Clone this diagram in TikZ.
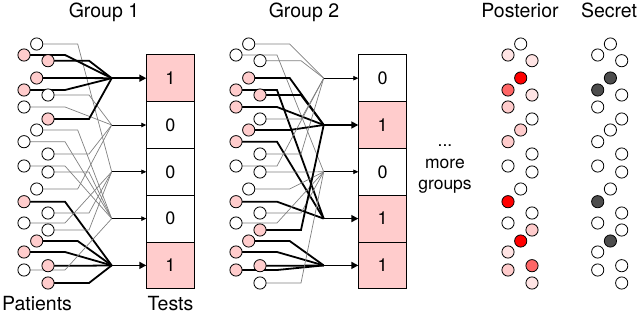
\documentclass[tikz,border=0pt]{standalone}
\usepackage{fontspec}
\setmainfont{TeX Gyre Heros}
\usetikzlibrary{arrows.meta,backgrounds}
\definecolor{pk}{RGB}{255,204,204}
\definecolor{vlp}{RGB}{255,228,228}
\definecolor{mr}{RGB}{255,102,102}
\definecolor{rd}{RGB}{255,0,0}
\definecolor{dk}{RGB}{77,77,77}
\definecolor{ln}{RGB}{128,128,128}
\tikzset{
  np/.style={circle,draw=black,line width=0.8pt,fill=white,minimum size=12.2pt,inner sep=0pt},
  ip/.style={np,fill=pk},
  l0/.style={draw=ln,line width=0.7pt},
  l1/.style={draw=black,line width=1.8pt},
  a0/.style={draw=black,line width=0.8pt,-{Triangle[length=5pt,width=4.5pt]}},
  a1/.style={draw=black,line width=1.6pt,-{Triangle[length=7pt,width=7pt]}},
  tbox/.style={rectangle,draw=black,line width=0.8pt,minimum width=47.6pt,minimum height=46.8pt,inner sep=0pt,font=\fontsize{18}{20}\selectfont},
  lbl/.style={font=\fontsize{19.5}{22}\selectfont,anchor=base},
}
\begin{document}
\begin{tikzpicture}[x=1pt,y=-1pt]
\useasboundingbox (0,0) rectangle (640,321);
% base patient positions
\foreach \i/\x/\y in {1/36.7/44,2/24/55,3/48/60.7,4/36.7/78,5/24/90,6/48/95,7/24/107,8/48/119,9/36.7/130,10/24/141.7,11/48/154,12/24/166,13/48/172,14/36.7/189,15/24/201.7,16/48/213,17/24/223,18/48/230,19/36.7/241,20/24/252,21/48/265.7,22/24/270,23/48/283}
  {\coordinate (b\i) at (\x,\y);}
% test rows
\foreach \t/\y in {1/78.2,2/125,3/171.8,4/218.6,5/265.4}{
  \coordinate (g1j\t) at (111.7,\y);
  \coordinate (g2j\t) at (323.7,\y);
}
% ---------- Group 1 ----------
\foreach \t/\v/\f in {1/1/pk,2/0/white,3/0/white,4/0/white,5/1/pk}{
  \node[tbox,fill=\f] (g1t\t) at ([xshift=58.8pt]g1j\t) {\v};
}
\foreach \t/\s in {1/1,2/0,3/0,4/0,5/1}{\draw[a\s] (g1j\t) -- (g1t\t.west);}
\foreach \i/\t/\s in {1/3/0,2/1/1,3/1/1,4/1/1,5/1/1,6/2/0,7/2/0,8/1/1,9/4/0,10/4/0,11/2/0,12/4/0,13/4/0,14/2/0,15/5/1,16/3/0,17/3/0,18/3/0,19/5/1,20/5/1,21/5/1,22/4/0,23/5/1}{
  \ifnum\s=1 \node[ip] (g1p\i) at (b\i) {};\else \node[np] (g1p\i) at (b\i) {};\fi
  \begin{scope}[on background layer]
    \draw[l\s] (g1p\i.center) -- ([xshift=41pt]g1p\i.center) -- (g1j\t);
  \end{scope}
}
% ---------- Group 2 ----------
\foreach \t/\v/\f in {1/0/white,2/1/pk,3/0/white,4/1/pk,5/1/pk}{
  \node[tbox,fill=\f] (g2t\t) at ([xshift=58.8pt]g2j\t) {\v};
}
\foreach \t/\s in {1/0,2/1,3/0,4/1,5/1}{\draw[a\s] (g2j\t) -- (g2t\t.west);}
\foreach \i/\t/\s in {1/1/0,2/3/0,3/1/0,4/2/1,5/4/1,6/2/1,7/2/1,8/1/0,9/2/1,10/4/1,11/1/0,12/1/0,13/3/0,14/3/0,15/4/1,16/3/0,17/3/0,18/2/1,19/5/1,20/5/1,21/5/1,22/5/1,23/3/0}{
  \ifnum\s=1 \node[ip] (g2p\i) at ([xshift=212pt]b\i) {};\else \node[np] (g2p\i) at ([xshift=212pt]b\i) {};\fi
  \begin{scope}[on background layer]
    \draw[l\s] (g2p\i.center) -- ([xshift=41pt]g2p\i.center) -- (g2j\t);
  \end{scope}
}
% ---------- Posterior ----------
\foreach \i/\c in {1/white,2/vlp,3/vlp,4/rd,5/mr,6/vlp,7/pk,8/white,9/pk,10/pk,11/white,12/white,13/white,14/white,15/rd,16/white,17/white,18/pk,19/rd,20/vlp,21/mr,22/pk,23/vlp}{
  \node[np,fill=\c] (pp\i) at ([xshift=484pt]b\i) {};
}
% ---------- Secret ----------
\foreach \i/\c in {1/white,2/white,3/white,4/dk,5/dk,6/white,7/white,8/white,9/white,10/white,11/white,12/white,13/white,14/white,15/dk,16/white,17/white,18/white,19/dk,20/white,21/white,22/white,23/white}{
  \node[np,fill=\c] (sp\i) at ([xshift=573.7pt]b\i) {};
}
% ---------- Labels ----------
\node[lbl] (h1) at (104,17.5) {Group 1};
\node[lbl] (h2) at (304,17.5) {Group 2};
\node[lbl] (h3) at (520,17.5) {Posterior};
\node[lbl] (h4) at (609,17.5) {Secret};
\node[lbl] (h5) at (37,310) {Patients};
\node[lbl] (h6) at (170.5,310) {Tests};
\node[font=\fontsize{17.5}{21.5}\selectfont,align=center] (mg) at (445,169) {...\\more\\groups};
\end{tikzpicture}
\end{document}
